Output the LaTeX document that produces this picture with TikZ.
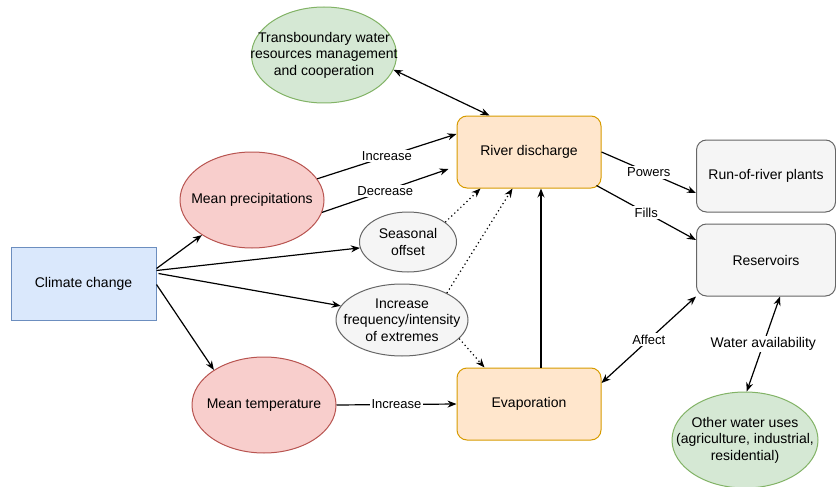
\documentclass[tikz,border=0pt]{standalone}
\usepackage{fontspec}
\setmainfont{Liberation Sans}
\usetikzlibrary{shapes.geometric,arrows.meta,calc}
\definecolor{bluef}{HTML}{DAE8FC}\definecolor{blued}{HTML}{6C8EBF}
\definecolor{redf}{HTML}{F8CECC}\definecolor{redd}{HTML}{B85450}
\definecolor{greenf}{HTML}{D5E8D4}\definecolor{greend}{HTML}{82B366}
\definecolor{orf}{HTML}{FFE6CC}\definecolor{ord}{HTML}{D79B00}
\definecolor{greyf}{HTML}{F5F5F5}\definecolor{greyd}{HTML}{666666}
\begin{document}
\begin{tikzpicture}[x=1pt,y=-1pt,
  every node/.style={font=\fontsize{14}{16.5}\selectfont},
  ell/.style={ellipse, draw, line width=1pt, inner sep=0pt},
  boxr/.style={rectangle, draw, line width=1pt, rounded corners=10pt},
  redell/.style={ell, fill=redf, draw=redd, minimum width=144pt, minimum height=96pt},
  greenell/.style={ell, fill=greenf, draw=greend},
  greyell/.style={ell, fill=greyf, draw=greyd},
  orbox/.style={boxr, fill=orf, draw=ord, minimum width=144pt, minimum height=72pt},
  greybox/.style={boxr, fill=greyf, draw=greyd, minimum width=139pt, minimum height=72pt},
  txt/.style={align=center},
  elab/.style={fill=white, inner sep=1.5pt, font=\fontsize{13}{15}\selectfont},
  ar/.style={line width=1.2pt, -{Stealth[length=9pt,width=7pt]}},
  dar/.style={line width=1.2pt, {Stealth[length=9pt,width=7pt]}-{Stealth[length=9pt,width=7pt]}},
  dotar/.style={line width=1.2pt, dash pattern=on 1.2pt off 3pt, -{Stealth[length=9pt,width=7pt]}}]
\useasboundingbox (0,0) rectangle (836,487);

\node[rectangle, draw=blued, fill=bluef, line width=1pt, minimum width=145pt, minimum height=73pt] (cc) at (83.5,283.5) {Climate change};
\node[redell, label={[txt]center:{Mean precipitations}}] (mp) at (252,200) {};
\node[redell, label={[txt]center:{Mean temperature}}] (mt) at (264,405) {};
\node[greenell, minimum width=145pt, minimum height=96pt, label={[txt]center:{Transboundary water\\resources management\\and cooperation}}] (tb) at (324,55) {};
\node[greyell, minimum width=97pt, minimum height=60pt, label={[txt]center:{Seasonal\\offset}}] (so) at (408,242) {};
\node[greyell, minimum width=132pt, minimum height=72pt, label={[txt]center:{Increase\\frequency/intensity\\of extremes}}] (ex) at (402,320) {};
\node[orbox] (rd) at (529,152) {River discharge};
\node[orbox] (ev) at (529,404) {Evaporation};
\node[greybox] (rr) at (766,176) {Run-of-river plants};
\node[greybox] (rs) at (766,260) {Reservoirs};
\node[greenell, minimum width=146pt, minimum height=96pt, label={[txt]center:{Other water uses\\(agriculture, industrial,\\residential)}}] (ow) at (745,440) {};

\draw[dar] (tb.-12) -- ($(rd.north west)+(33,0)$);
\draw[ar] (mp.18) -- node[elab, midway] {Increase} ($(rd.west)+(0,-18)$);
\draw[ar] (mp.-10) -- node[elab, midway] {Decrease} ($(rd.west)+(-8,17)$);
\draw[ar] ($(cc.east)+(0,-15)$) -- (mp.-145);
\draw[ar] ($(cc.east)+(0,-13)$) -- (so.187);
\draw[ar] ($(cc.east)+(2,-10)$) -- (ex.167);
\draw[ar] ($(cc.east)+(0,1)$) -- (mt.145);
\draw[dotar] (so.28) -- ($(rd.south west)+(24,0)$);
\draw[dotar] (ex.31) -- ($(rd.south west)+(56,0)$);
\draw[dotar] (ex.-18) -- ($(ev.north west)+(28,0)$);
\draw[ar] (mt.east) -- node[elab, midway] {Increase} (ev.west);
\draw[ar] ($(ev.north)+(12,0)$) -- ($(rd.south)+(12,0)$);
\draw[ar] (rd.east) -- node[elab, midway] {Powers} ($(rr.west)+(0,17)$);
\draw[ar] ($(rd.south east)+(-5,-3)$) -- node[elab, midway] {Fills} ($(rs.west)+(0,-20)$);
\draw[dar] ($(ev.east)+(0,-21)$) -- node[elab, midway] {Affect} (rs.south west);
\draw[dar] ($(rs.south)+(14,0)$) -- node[elab, midway, font=\fontsize{14}{16}\selectfont] {Water availability} (ow.88);
\end{tikzpicture}
\end{document}
